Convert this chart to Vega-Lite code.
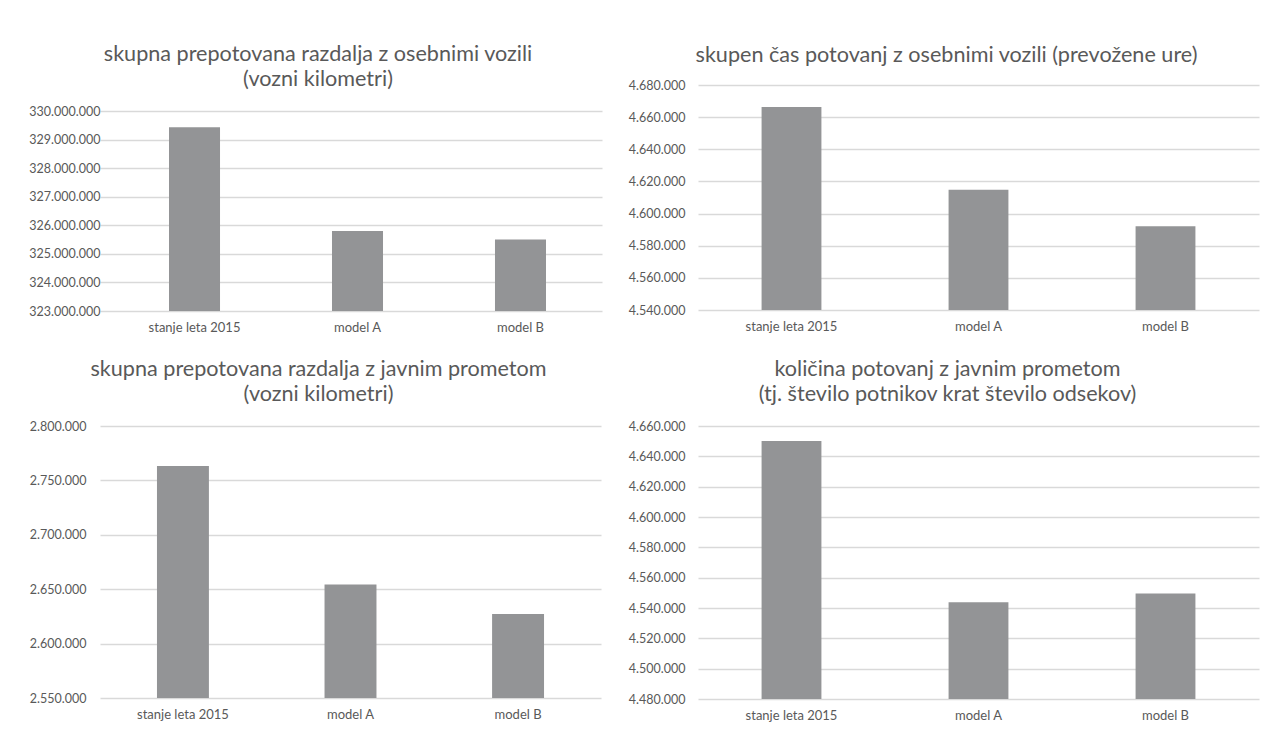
{
  "$schema": "https://vega.github.io/schema/vega-lite/v6.json",
  "padding": {"left": 28, "top": 44, "right": 5, "bottom": 5},
  "background": "white",
  "config": {
    "locale": {"number": {"decimal": ",", "thousands": ".", "grouping": [3], "currency": ["", ""]}},
    "font": "Lato",
    "view": {"stroke": null},
    "title": {"fontSize": 21.6, "fontWeight": "normal", "color": "#595959", "lineHeight": 25, "anchor": "middle", "offset": 14, "font": "Lato"},
    "axisY": {"domain": false, "ticks": false, "labelPadding": 13, "labelFontSize": 12.5, "labelColor": "#595959", "gridColor": "#d9d9d9", "gridWidth": 1.3, "title": null, "labelFont": "Lato"},
    "axisX": {"domain": false, "ticks": false, "labelPadding": 10.5, "labelFontSize": 13, "labelColor": "#595959", "labelAngle": 0, "title": null, "grid": false, "labelFont": "Lato"},
    "bar": {"color": "#939496"},
    "scale": {"bandPaddingInner": 0.68, "bandPaddingOuter": 0.34}
  },
  "data": {"values": [
    {"panel": 1, "scenario": "stanje leta 2015", "value": 329430000},
    {"panel": 1, "scenario": "model A", "value": 325800000},
    {"panel": 1, "scenario": "model B", "value": 325500000},
    {"panel": 2, "scenario": "stanje leta 2015", "value": 4666300},
    {"panel": 2, "scenario": "model A", "value": 4614900},
    {"panel": 2, "scenario": "model B", "value": 4592100},
    {"panel": 3, "scenario": "stanje leta 2015", "value": 2763200},
    {"panel": 3, "scenario": "model A", "value": 2654300},
    {"panel": 3, "scenario": "model B", "value": 2627300},
    {"panel": 4, "scenario": "stanje leta 2015", "value": 4650100},
    {"panel": 4, "scenario": "model A", "value": 4543800},
    {"panel": 4, "scenario": "model B", "value": 4549500}
  ]},
  "spacing": 24,
  "vconcat": [
    {
      "spacing": 26,
      "hconcat": [
        {
          "title": {"text": ["skupna prepotovana razdalja z osebnimi vozili", "(vozni kilometri)"], "offset": -6, "dx": -33},
          "width": 502, "height": 226,
          "transform": [{"filter": "datum.panel === 1"}],
          "mark": {"type": "bar"},
          "encoding": {
            "x": {"field": "scenario", "type": "nominal", "sort": null, "scale": {"paddingInner": 0.687, "paddingOuter": 0.3835, "align": 0.552}, "axis": {}},
            "y": {"field": "value", "type": "quantitative", "scale": {"domain": [323000000, 330910000], "zero": false, "nice": false}, "axis": {"labelPadding": 0, "values": [323000000, 324000000, 325000000, 326000000, 327000000, 328000000, 329000000, 330000000], "format": ",d"}},
            "y2": {"datum": 323000000}
          }
        },
        {
          "title": {"text": "skupen čas potovanj z osebnimi vozili (prevožene ure)", "offset": 12, "dx": -32},
          "width": 561, "height": 225,
          "transform": [{"filter": "datum.panel === 2"}],
          "mark": {"type": "bar"},
          "encoding": {
            "x": {"field": "scenario", "type": "nominal", "sort": null, "axis": {}},
            "y": {"field": "value", "type": "quantitative", "scale": {"domain": [4540000, 4680000], "zero": false, "nice": false}, "axis": {"values": [4540000, 4560000, 4580000, 4600000, 4620000, 4640000, 4660000, 4680000], "format": ",d"}},
            "y2": {"datum": 4540000}
          }
        }
      ]
    },
    {
      "spacing": 27,
      "hconcat": [
        {
          "title": {"text": ["skupna prepotovana razdalja z javnim prometom", "(vozni kilometri)"], "offset": 14, "dx": -32},
          "width": 501, "height": 272,
          "transform": [{"filter": "datum.panel === 3"}],
          "mark": {"type": "bar"},
          "encoding": {
            "x": {"field": "scenario", "type": "nominal", "sort": null, "scale": {"paddingInner": 0.69, "paddingOuter": 0.34}, "axis": {}},
            "y": {"field": "value", "type": "quantitative", "scale": {"domain": [2550000, 2800000], "zero": false, "nice": false}, "axis": {"labelPadding": 14, "values": [2550000, 2600000, 2650000, 2700000, 2750000, 2800000], "format": ",d"}},
            "y2": {"datum": 2550000}
          }
        },
        {
          "title": {"text": ["količina potovanj z javnim prometom", "(tj. število potnikov krat število odsekov)"], "offset": 14, "dx": -31},
          "width": 561, "height": 273,
          "transform": [{"filter": "datum.panel === 4"}],
          "mark": {"type": "bar"},
          "encoding": {
            "x": {"field": "scenario", "type": "nominal", "sort": null, "axis": {}},
            "y": {"field": "value", "type": "quantitative", "scale": {"domain": [4480000, 4660000], "zero": false, "nice": false}, "axis": {"values": [4480000, 4500000, 4520000, 4540000, 4560000, 4580000, 4600000, 4620000, 4640000, 4660000], "format": ",d"}},
            "y2": {"datum": 4480000}
          }
        }
      ]
    }
  ]
}
